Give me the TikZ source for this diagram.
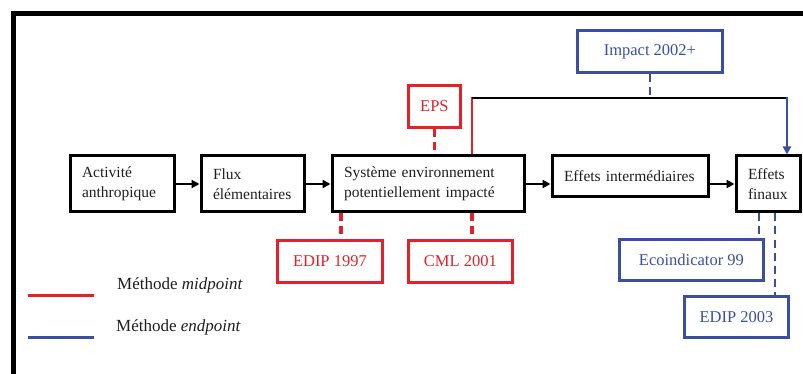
\documentclass[tikz,border=0pt]{standalone}
\usepackage{fontspec}
\setmainfont{Liberation Serif}
\usetikzlibrary{arrows.meta,calc}
\definecolor{midred}{RGB}{230,32,42}
\definecolor{endblue}{RGB}{58,78,165}
\definecolor{ink}{RGB}{30,30,30}
\tikzset{
  stage/.style={draw=black, line width=3pt, rectangle, anchor=north west,
    inner xsep=12pt, inner ysep=0pt, align=left, text=ink,
    font=\fontsize{15.5}{20}\selectfont},
  method/.style={rectangle, line width=2.8pt, anchor=north west, inner sep=0pt,
    align=center, font=\fontsize{16.5}{20}\selectfont},
  redbox/.style={method, draw=midred, text=midred},
  bluebox/.style={method, draw=endblue, text=endblue},
  flow/.style={draw=black, line width=2pt, -{Triangle[length=8pt,width=8pt]}},
  reddash/.style={draw=midred, line width=3.2pt, dash pattern=on 8pt off 5pt},
  bluedash/.style={draw=endblue, line width=2.6pt, dash pattern=on 8pt off 5pt},
  legendtext/.style={anchor=west, inner sep=0pt, text=ink, font=\fontsize{17}{20}\selectfont},
}
\begin{document}
\begin{tikzpicture}[x=1pt,y=-1pt]
\useasboundingbox (0,0) rectangle (803,374);
% outer frame (top and left edges)
\draw[line width=5pt] (13.5,374) -- (13.5,13.5) -- (803,13.5);

% main chain of stages
\node[stage, text width=80pt, minimum height=56pt] (act) at (68.5,154.5) {Activité\\anthropique};
\node[stage, text width=79pt, minimum height=56pt] (flux) at (199.5,154.5) {Flux\\élémentaires};
\node[stage, text width=168pt, minimum height=56pt] (sys) at (330.5,154.5) {Système environnement\\potentiellement impacté};
\node[stage, text width=132pt, minimum height=41pt] (inter) at (550.5,154.5) {Effets intermédiaires};
\node[stage, text width=40.5pt, minimum height=56pt] (fin) at (734.5,154.5) {Effets\\finaux};

\draw[flow] (act) -- (flux);
\draw[flow] (flux) -- (sys);
\draw[flow] (sys.east) -- (sys.east -| inter.west);
\draw[flow] (inter.east |- fin.west) -- (fin.west);

% impact methods
\node[redbox, minimum width=52pt, minimum height=42pt] (eps) at (407,84) {EPS};
\node[bluebox, minimum width=145pt, minimum height=42pt] (imp) at (576,29) {Impact 2002+};
\node[redbox, minimum width=105pt, minimum height=42pt] (e97) at (276,239) {EDIP 1997};
\node[redbox, minimum width=104pt, minimum height=42pt] (cml) at (407,239) {CML 2001};
\node[bluebox, minimum width=144pt, minimum height=41pt] (eco) at (618,238) {Ecoindicator 99};
\node[bluebox, minimum width=104pt, minimum height=41pt] (e03) at (683,295) {EDIP 2003};

% bypass route from the system to the final effects
\coordinate (up) at (472,98);
\coordinate (over) at (787,98);
\coordinate (x97) at (341,0);
\coordinate (xeco) at (759,0);
\coordinate (x03) at (775,0);

\draw[midred, line width=2.8pt] (up |- sys.north) -- ($(up)+(0,-1.3)$);
\draw[black, line width=2.6pt] (up) -- (over);
\draw[endblue, line width=2.2pt, -{Triangle[length=8pt,width=8pt]}] ($(over)+(0,-1.3)$) -- (over |- fin.north);

% method attachments
\draw[reddash] (eps.south) -- (eps.south |- sys.north);
\draw[bluedash] (imp.south) -- (imp.south |- up);
\draw[reddash] (x97 |- sys.south) -- (x97 |- e97.north);
\draw[reddash] (up |- sys.south) -- (up |- cml.north);
\draw[bluedash] (xeco |- fin.south) -- (xeco |- eco.north);
\draw[bluedash] (x03 |- fin.south) -- (x03 |- e03.north);

% legend
\coordinate (lr0) at (28,295);
\coordinate (lr1) at (94,295);
\coordinate (lb0) at (28,337);
\coordinate (lb1) at (94,337);
\draw[midred, line width=3pt] (lr0) -- (lr1);
\draw[endblue, line width=3pt] (lb0) -- (lb1);
\node[legendtext] (lmid) at (117,285) {Méthode \textit{midpoint}};
\node[legendtext] (lend) at (116,327) {Méthode \textit{endpoint}};
\end{tikzpicture}
\end{document}
